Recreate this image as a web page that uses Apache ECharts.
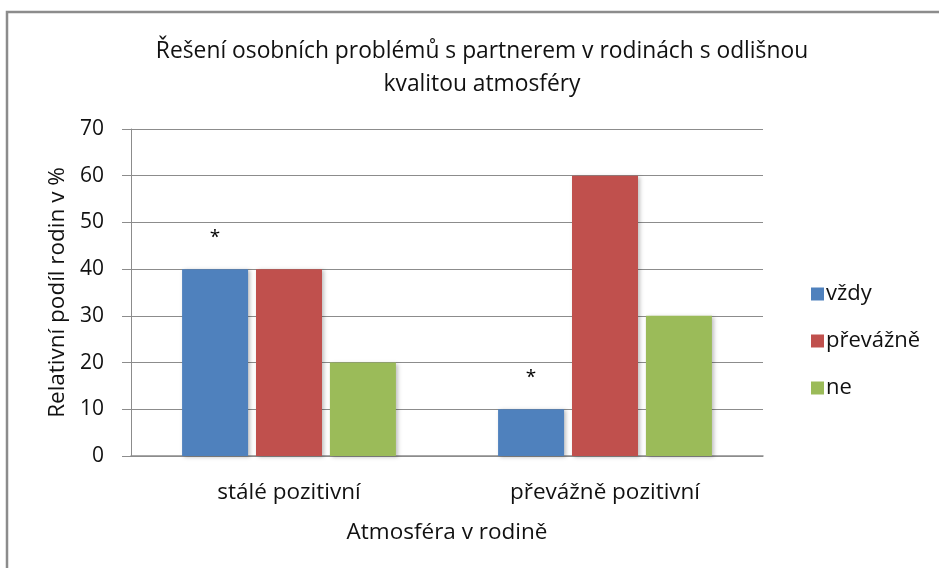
<!DOCTYPE html>
<html><head><meta charset="utf-8">
<script src="https://cdn.jsdelivr.net/npm/echarts@6/dist/echarts.min.js"></script>
<style>html,body{margin:0;padding:0;background:#fff}#c{width:939px;height:568px}</style>
</head><body><div id="c"></div>
<script>
const categories = ['stálé pozitivní', 'převážně pozitivní'];
const seriesNames = ['vždy', 'převážně', 'ne'];
const vzdy = [40, 10];
const prevazne = [40, 60];
const ne = [20, 30];
const vzdyMarks = ['*', '*'];
const yTicks = [0, 10, 20, 30, 40, 50, 60, 70];

const colors = ['#4F81BD', '#C0504D', '#9BBB59'];
const font = '"Open Sans", "Noto Sans", sans-serif';
const chart = echarts.init(document.getElementById('c'), null, {renderer: 'canvas'});
const shadow = {shadowBlur: 4, shadowColor: 'rgba(0,0,0,0.25)', shadowOffsetX: 2, shadowOffsetY: 1};
function mk(name, data, color, labels) {
  return {
    name, type: 'bar', data, barWidth: 66, barGap: '12%',
    itemStyle: Object.assign({color}, shadow),
    label: labels ? {show: true, position: 'top', distance: 22, formatter: p => labels[p.dataIndex], color: '#000', fontSize: 19, fontFamily: font} : {show: false}
  };
}
chart.setOption({
  animation: false,
  color: colors,
  title: {
    text: 'Řešení osobních problémů s partnerem v rodinách s odlišnou\nkvalitou atmosféry',
    left: 477, top: 30, textAlign: 'center',
    textStyle: {fontFamily: font, fontWeight: 'normal', fontSize: 22.8, color: '#111', lineHeight: 33}
  },
  legend: {
    orient: 'vertical', left: 806, top: 278, itemGap: 25, itemWidth: 13, itemHeight: 13,
    icon: 'rect', data: seriesNames,
    textStyle: {fontFamily: font, fontSize: 22, color: '#111', padding: [0, 0, 0, -3]}
  },
  grid: {left: 131, right: 176, top: 129, bottom: 112},
  xAxis: {
    type: 'category', data: categories,
    name: 'Atmosféra v rodině', nameLocation: 'middle', nameGap: 65,
    nameTextStyle: {fontFamily: font, fontSize: 22.5, color: '#111'},
    axisLine: {lineStyle: {color: '#8c8c8c', width: 1.5}},
    axisTick: {show: false},
    axisLabel: {fontFamily: font, fontSize: 22.5, color: '#111', margin: 25}
  },
  yAxis: {
    type: 'value', min: 0, max: 70, interval: 10,
    name: 'Relativní podíl rodin v %', nameLocation: 'middle', nameGap: 60, nameRotate: 90,
    nameTextStyle: {fontFamily: font, fontSize: 22.5, color: '#111'},
    axisLine: {show: true, lineStyle: {color: '#8c8c8c'}},
    axisTick: {show: true, length: 9, lineStyle: {color: '#8c8c8c'}},
    splitLine: {lineStyle: {color: '#8c8c8c'}},
    axisLabel: {fontFamily: font, fontSize: 21, color: '#111', margin: 27,
      formatter: v => yTicks.includes(v) ? String(v) : ''}
  },
  series: [mk(seriesNames[0], vzdy, colors[0], vzdyMarks), mk(seriesNames[1], prevazne, colors[1]), mk(seriesNames[2], ne, colors[2])],
  graphic: [
    {type: 'polyline', shape: {points: [[7, 568], [7, 12], [939, 12]]}, style: {stroke: '#8c8c8c', lineWidth: 2.5, fill: null}}
  ]
});
</script></body></html>
